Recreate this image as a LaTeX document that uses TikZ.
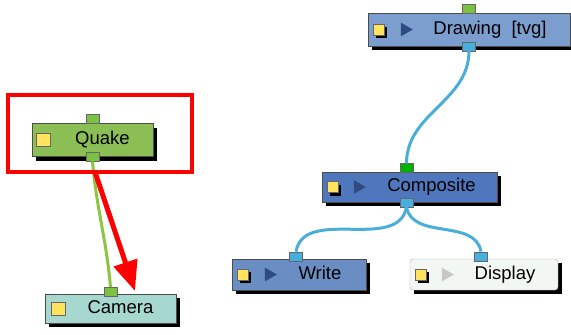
\documentclass[tikz,border=0pt]{standalone}
\usepackage{fontspec}
\setmainfont{Liberation Sans}
\usetikzlibrary{arrows.meta,shapes.geometric}

\definecolor{quakegreen}{HTML}{8BBF55}
\definecolor{drawblue}{HTML}{7C9ECF}
\definecolor{compblue}{HTML}{4E77BD}
\definecolor{writeblue}{HTML}{6A8DC3}
\definecolor{camteal}{HTML}{A6D8CF}
\definecolor{dispwhite}{HTML}{F3F7F3}
\definecolor{portgreen}{HTML}{7CC242}
\definecolor{portblue}{HTML}{45AFE0}
\definecolor{wireblue}{HTML}{4AAED8}
\definecolor{wiregreen}{HTML}{8CC63F}
\definecolor{iconyellow}{HTML}{FFE25E}
\definecolor{playblue}{HTML}{2F4B82}

\begin{document}
\begin{tikzpicture}[
  x=1pt, y=-1pt,
  module/.style={draw=black!70, thin, minimum height=31pt,
                 text height=13pt, text depth=3.5pt,
                 font=\fontsize{18.5}{20}\selectfont},
  port/.style={draw=black!60, thin, minimum width=13pt, minimum height=9pt,
               inner sep=0pt},
  inport/.style={port, fill=portgreen},
  outport/.style={port, fill=portblue},
  swatch/.style={draw=black!60, thin, fill=iconyellow, inner sep=0pt,
                 minimum width=11pt, minimum height=11pt},
  bigswatch/.style={swatch, minimum width=14pt, minimum height=13pt},
  play/.style={fill=playblue, regular polygon, regular polygon sides=3,
               shape border rotate=-90, inner sep=0pt, minimum size=16pt},
  dropfill/.style={fill=black},
  wire/.style={draw=wireblue, line width=3pt},
  hilite/.style={draw=red, line width=4pt}
]
\useasboundingbox (0,0) rectangle (571,335);

% shadows, drawn first
\fill[dropfill] (36,127.5) rectangle (157,160.5);
\fill[dropfill] (49,298) rectangle (180,327);
\fill[dropfill] (372,17) rectangle (574,50);
\fill[dropfill] (326,176) rectangle (501,206);
\fill[dropfill] (236,263) rectangle (370,294);
\fill[dropfill] (414,263) rectangle (562,294);

% nodes
\node[module, fill=quakegreen, minimum width=121pt, minimum height=33pt]
  (quake) at (92.5,140) {\hspace*{20pt}Quake};
\node[module, fill=camteal, minimum width=131pt, minimum height=29pt]
  (camera) at (110.5,308.5) {\hspace*{20pt}Camera};
\node[module, fill=drawblue, minimum width=202pt, minimum height=33pt]
  (drawing) at (469,29.5) {\hspace*{42pt}Drawing\ \ [tvg]};
\node[module, fill=compblue, minimum width=175pt, minimum height=30pt]
  (composite) at (409.5,187) {\hspace*{44pt}Composite};
\node[module, fill=writeblue, minimum width=134pt]
  (write) at (299,274.5) {\hspace*{42pt}Write};
\node[module, fill=dispwhite, draw=black!30, rounded corners=3pt,
      minimum width=148pt]
  (display) at (484,274.5) {\hspace*{42pt}Display};

% icons
\fill[dropfill] (376,27) rectangle (387,38);
\fill[dropfill] (330,184.5) rectangle (341,195.5);
\fill[dropfill] (240,272) rectangle (251,283);
\fill[dropfill] (418,272) rectangle (429,283);
\node[bigswatch, anchor=west] (quake-ic) at ([xshift=4pt]quake.west) {};
\node[bigswatch, anchor=west] (camera-ic) at ([xshift=6pt]camera.west) {};
\node[swatch, anchor=west] (drawing-ic) at ([xshift=5pt]drawing.west) {};
\node[swatch, anchor=west] (composite-ic) at ([xshift=5pt]composite.west) {};
\node[swatch, anchor=west] (write-ic) at ([xshift=5pt]write.west) {};
\node[swatch, anchor=west] (display-ic) at ([xshift=5pt]display.west) {};
\node[play] (drawing-pl) at ([xshift=37pt]drawing.west) {};
\node[play] (composite-pl) at ([xshift=36pt]composite.west) {};
\node[play] (write-pl) at ([xshift=37pt]write.west) {};
\node[play, fill=black!22] (display-pl) at ([xshift=36pt]display.west) {};

% ports
\node[inport, anchor=south] (quake-in) at (quake.north) {};
\node[outport, fill=portgreen] (quake-out) at (quake.south) {};
\node[inport] (camera-in) at ([yshift=2pt]camera.north) {};
\node[inport, anchor=south] (drawing-in) at ([yshift=-1pt]drawing.north) {};
\node[outport] (drawing-out) at (drawing.south) {};
\node[inport, fill=green!70!black, anchor=south] (composite-in)
  at ([xshift=-3pt,yshift=-1pt]composite.north) {};
\node[outport] (composite-out) at ([xshift=-3pt]composite.south) {};
\node[outport] (write-in) at ([xshift=-3pt,yshift=2.5pt]write.north) {};
\node[outport] (display-in) at ([xshift=-3pt,yshift=2.5pt]display.north) {};

% wires
\draw[wire] (drawing-out.south) to[out=-90,in=90] (composite-in.north);
\draw[wire] (composite-out.south) to[out=-100,in=80] (write-in.north);
\draw[wire] (composite-out.south) to[out=-80,in=100] (display-in.north);
\draw[draw=wiregreen, line width=3pt]
  (quake-out.south) to[out=-85,in=95] (camera-in.north);

% highlight
\draw[hilite] (8,95) rectangle (192,172);
\coordinate (arr-s) at (95,172);
\coordinate (arr-e) at (135,291);
\draw[draw=red, line width=5pt, -{Triangle[width=24pt,length=30pt]}]
  (arr-s) -- (arr-e);
\end{tikzpicture}
\end{document}
